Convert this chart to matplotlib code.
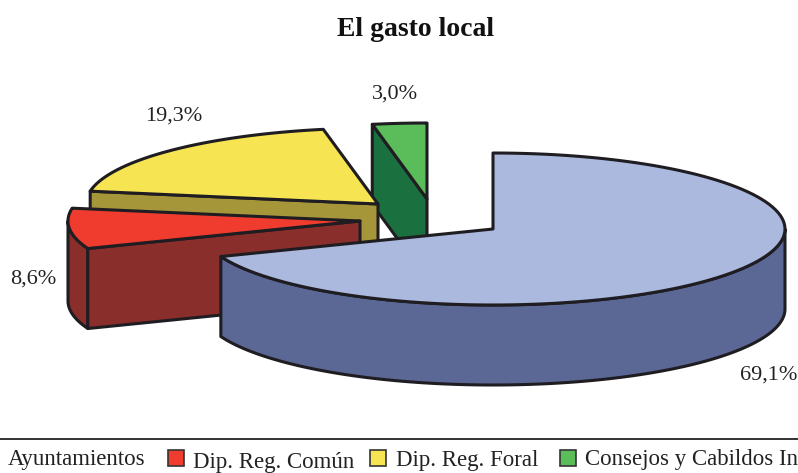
import numpy as np
import matplotlib
matplotlib.use("Agg")
import matplotlib.pyplot as plt
from matplotlib.patches import Polygon, Rectangle

plt.rcParams['font.family'] = ['Liberation Serif', 'DejaVu Serif']

# Share of spending, clockwise from 12 o'clock
categories = ["Ayuntamientos", "Dip. Reg. Común", "Dip. Reg. Foral", "Consejos y Cabildos Insulares"]
values = [69.1, 8.6, 19.3, 3.0]
value_labels = ["69,1%", "8,6%", "19,3%", "3,0%"]

top_colors = ["#AAB9DD", "#F03C2E", "#F6E452", "#5BBD5A"]
side_colors = ["#5B6895", "#8A2E2C", "#A6963A", "#1B7040"]
edge = "#1F1D22"

# exploded centre of each slice, in pixels of the 798x473 picture
centers = [(493, 229), (360, 221), (378, 204), (427, 199)]
RX, RY, DEPTH = 292, 76, 80

W, H = 798, 473
fig = plt.figure(figsize=(W / 100, H / 100), dpi=100)
ax = fig.add_axes([0, 0, 1, 1])
ax.set_xlim(0, W)
ax.set_ylim(H, 0)
ax.axis("off")


def arc(c, a0, a1, n=120):
    t = np.radians(np.linspace(a0, a1, n))
    return np.column_stack([c[0] + RX * np.cos(t), c[1] - RY * np.sin(t)])


def shape(points, color, z):
    ax.add_patch(Polygon(points, closed=True, facecolor=color, edgecolor=edge,
                         lw=2.2, joinstyle="round", zorder=z))


def draw_slice(i, a_start, a_end, z):
    # a_start > a_end: angles in degrees, running clockwise
    c = np.array(centers[i], dtype=float)
    down = np.array([0, DEPTH])
    outer = arc(c, a_start, a_end)

    # outer rim, only the part at the front
    t = np.linspace(a_start, a_end, 200)
    front = t[np.sin(np.radians(t)) <= 0]
    if len(front) > 1:
        rim = arc(c, front[0], front[-1])
        shape(np.vstack([rim, (rim + down)[::-1]]), side_colors[i], z)

    # cut faces that look towards the viewer
    if np.cos(np.radians(a_start)) < -1e-9:
        p = outer[0]
        shape([c, p, p + down, c + down], side_colors[i], z + 0.1)
    if np.cos(np.radians(a_end)) > 1e-9:
        p = outer[-1]
        shape([c, p, p + down, c + down], side_colors[i], z + 0.1)

    shape(np.vstack([c, outer]), top_colors[i], z + 0.2)


angles = 90 - np.cumsum([0] + values) * 3.6
# back to front: green, yellow, red, blue
draw_slice(3, angles[3], angles[4], 1)
draw_slice(2, angles[2], angles[3], 2)
draw_slice(1, angles[1], angles[2], 3)
draw_slice(0, angles[0], angles[1], 4)

ax.text(416, 30, "El gasto local", ha="center", va="center", fontsize=20, fontweight="bold", color="#111111")

label_pos = [(769, 375), (33, 279), (174, 116), (395, 94)]
for (x, y), txt in zip(label_pos, value_labels):
    ax.text(x, y, txt, ha="center", va="center", fontsize=16, color="#222222")

# legend, cut by the right border like the original
ax.plot([0, W], [439, 439], color="#222222", lw=1.3, zorder=5)
key_x = [None, 168, 370, 560]
text_x = [8, 193, 396, 585]
text_y = [465, 468, 466, 465]
for i, name in enumerate(categories):
    if key_x[i] is not None:
        ax.add_patch(Rectangle((key_x[i], 450), 16, 16, facecolor=top_colors[i],
                               edgecolor="#333333", lw=1.2, zorder=5))
    ax.text(text_x[i], text_y[i], name, ha="left", va="baseline", fontsize=16.5, color="#222222")

fig.savefig("out.png", dpi=100)
